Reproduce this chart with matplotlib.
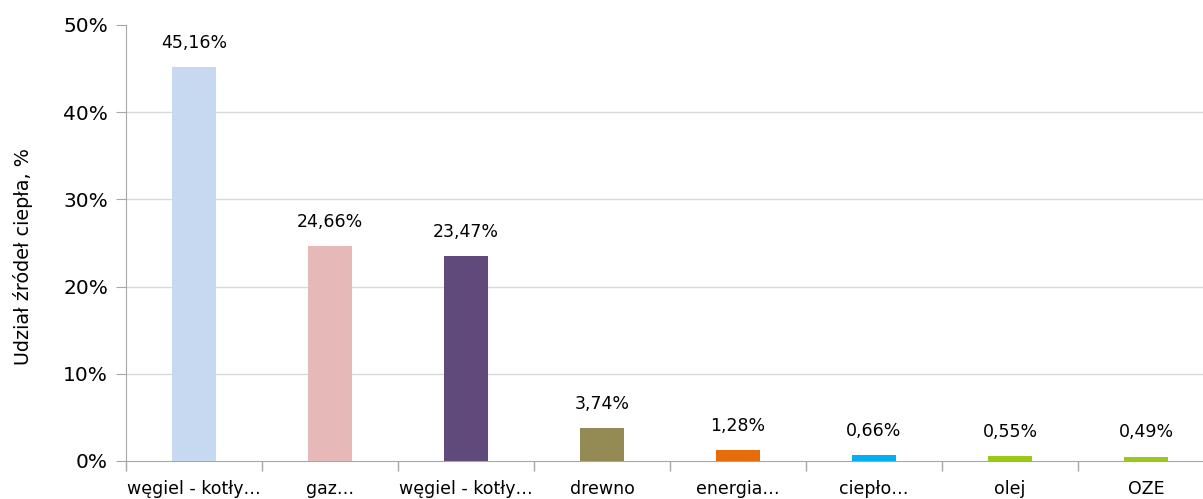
import matplotlib.pyplot as plt
import numpy as np
from matplotlib.ticker import FuncFormatter

categories = ["węgiel - kotły…", "gaz…", "węgiel - kotły…", "drewno",
              "energia…", "ciepło…", "olej", "OZE"]
shares = [45.16, 24.66, 23.47, 3.74, 1.28, 0.66, 0.55, 0.49]
colors = ["#c6d9f1", "#e6b9b8", "#604a7b", "#948a54",
          "#e46c0a", "#00b0f0", "#9bc91a", "#9bc91a"]

plt.rcParams["font.family"] = ["DejaVu Sans"]

fig = plt.figure(figsize=(12.03, 4.99), dpi=100)
# the plot area runs a little past the right edge, as in the source
ax = fig.add_axes([126 / 1203, 38 / 499, 1088 / 1203, 436 / 499])

x = np.arange(len(categories))
bars = ax.bar(x, shares, width=0.33, color=colors, zorder=3)

for b, v in zip(bars, shares):
    ax.annotate(f"{v:.2f}%".replace(".", ","),
                (b.get_x() + b.get_width() / 2, v),
                xytext=(0, 11), textcoords="offset points",
                ha="center", va="bottom", fontsize=12.5, color="#000000")

ax.set_xlim(-0.5, len(categories) - 0.5)
ax.set_ylim(0, 50)
ax.set_yticks(np.arange(0, 51, 10))
ax.yaxis.set_major_formatter(FuncFormatter(lambda v, p: f"{v:.0f}%"))

ax.set_xticks(x)
ax.set_xticklabels(categories)
ax.set_xticks(np.arange(-0.5, len(categories)), minor=True)
ax.tick_params(axis="x", which="major", length=0, pad=14, labelsize=12.5)
ax.tick_params(axis="x", which="minor", length=7, color="#a6a6a6", width=1)
ax.tick_params(axis="y", length=7, color="#a6a6a6", labelsize=14.5, pad=6)

# gridlines only below the top of the axis
for v in np.arange(10, 50, 10):
    ax.axhline(v, color="#d9d9d9", linewidth=1, zorder=0)
for s in ["top", "right"]:
    ax.spines[s].set_visible(False)
for s in ["left", "bottom"]:
    ax.spines[s].set_color("#a6a6a6")

ax.set_ylabel("Udział źródeł ciepła, %", fontsize=13.8, labelpad=22)
ax.yaxis.label.set_y(0.47)

fig.savefig("out.png", dpi=100)
